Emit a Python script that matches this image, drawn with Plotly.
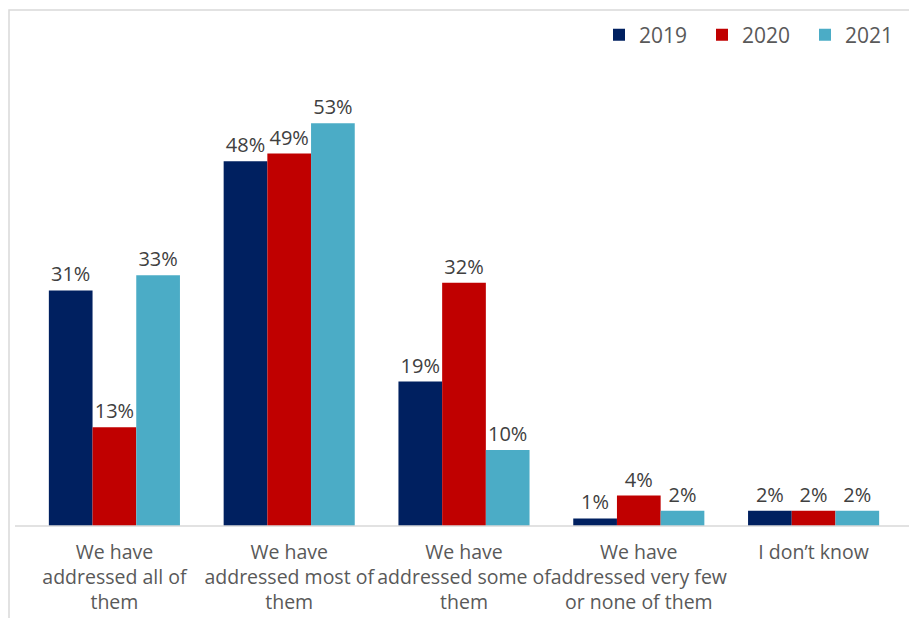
import plotly.graph_objects as go

categories = [
    "We have<br>addressed all of<br>them",
    "We have<br>addressed most of<br>them",
    "We have<br>addressed some of<br>them",
    "We have<br>addressed very few<br>or none of them",
    "I don\u2019t know",
]
years = ["2019", "2020", "2021"]
values_2019 = [31, 48, 19, 1, 2]
values_2020 = [13, 49, 32, 4, 2]
values_2021 = [33, 53, 10, 2, 2]
series = [values_2019, values_2020, values_2021]
colors = ["#002060", "#C00000", "#4BACC6"]

FONT = "Open Sans"

fig = go.Figure()
for name, vals, col in zip(years, series, colors):
    fig.add_trace(go.Bar(
        x=categories,
        y=vals,
        name=name,
        marker=dict(color=col, line=dict(width=0)),
        text=[f"{v}%" for v in vals],
        textposition="outside",
        textfont=dict(family=FONT, size=20, color="#404040"),
        cliponaxis=False,
    ))

W, H = 909, 618
ml, mr, mt, mb = 27, 8, 70, 92
pw, ph = W - ml - mr, H - mt - mb

fig.update_layout(
    width=W, height=H,
    margin=dict(l=ml, r=mr, t=mt, b=mb, autoexpand=False),
    paper_bgcolor="white",
    plot_bgcolor="white",
    barmode="group",
    bargap=0.25,
    bargroupgap=0,
    font=dict(family=FONT, size=19, color="#595959"),
    showlegend=True,
    legend=dict(
        orientation="h",
        x=(908 - ml) / pw, xanchor="right",
        y=(H - mb - 35) / ph, yanchor="middle",
        font=dict(family=FONT, size=21, color="#595959"),
        itemwidth=30,
        entrywidth=58,
        bgcolor="rgba(0,0,0,0)",
    ),
    xaxis=dict(
        showline=False, showgrid=False, ticks="",
        tickangle=0, automargin=False,
        tickfont=dict(family=FONT, size=19.5, color="#595959"),
        ticklabelstandoff=12,
        fixedrange=True,
    ),
    yaxis=dict(
        range=[0, 60], visible=False, showgrid=False, fixedrange=True,
        automargin=False,
    ),
    shapes=[
        # outer chart frame
        dict(type="rect", xref="paper", yref="paper",
             x0=(9 - ml) / pw, x1=(W + 5 - ml) / pw,
             y0=(H - mb - (H + 5)) / ph, y1=(H - mb - 10) / ph,
             line=dict(color="#d9d9d9", width=1.5), fillcolor="rgba(0,0,0,0)",
             layer="below"),
        # category axis baseline
        dict(type="line", xref="paper", yref="paper",
             x0=(15 - ml) / pw, x1=(W + 5 - ml) / pw, y0=0, y1=0,
             line=dict(color="#d9d9d9", width=1.5)),
    ],
)

fig.write_html("out.html")
